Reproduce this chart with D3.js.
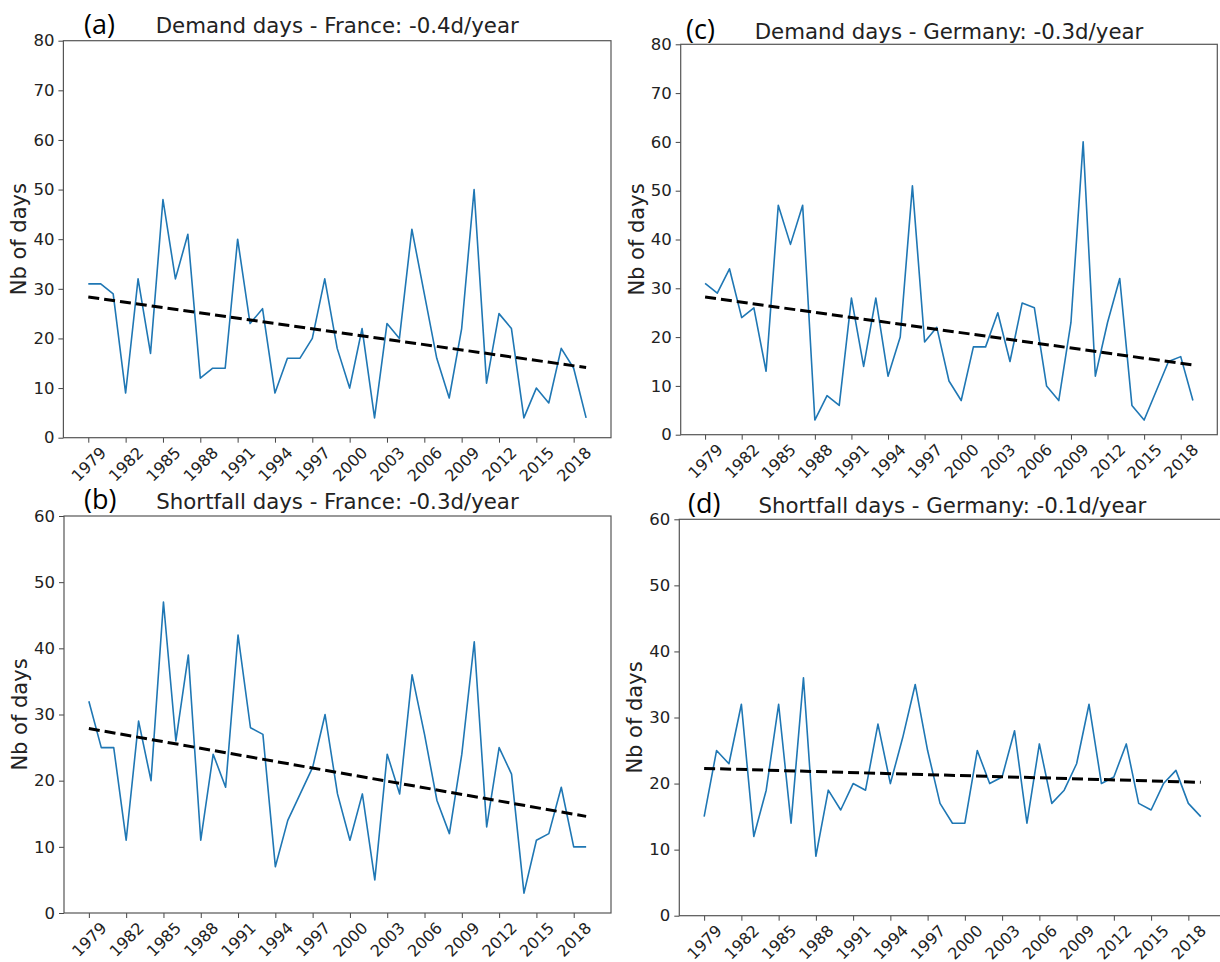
<!DOCTYPE html>
<html>
<head>
<meta charset="utf-8">
<script src="https://cdn.jsdelivr.net/npm/d3@7"></script>
<style>
  body { margin: 0; background: #fff; }
  svg { display: block; }
</style>
</head>
<body>
<script>
// years on the x axis
const years = [1979, 1980, 1981, 1982, 1983, 1984, 1985, 1986, 1987, 1988,
  1989, 1990, 1991, 1992, 1993, 1994, 1995, 1996, 1997, 1998,
  1999, 2000, 2001, 2002, 2003, 2004, 2005, 2006, 2007, 2008,
  2009, 2010, 2011, 2012, 2013, 2014, 2015, 2016, 2017, 2018, 2019];

const xTickYears = [1979, 1982, 1985, 1988, 1991, 1994, 1997, 2000, 2003, 2006, 2009, 2012, 2015, 2018];
const yTicksDemand = [0, 10, 20, 30, 40, 50, 60, 70, 80];
const yTicksShortfall = [0, 10, 20, 30, 40, 50, 60];

// number of days per year
const demandFrance = [31, 31, 29, 9, 32, 17, 48, 32, 41, 12,
  14, 14, 40, 23, 26, 9, 16, 16, 20, 32,
  18, 10, 22, 4, 23, 20, 42, 29, 16, 8,
  22, 50, 11, 25, 22, 4, 10, 7, 18, 14, 4];

const demandGermany = [31, 29, 34, 24, 26, 13, 47, 39, 47, 3,
  8, 6, 28, 14, 28, 12, 20, 51, 19, 22,
  11, 7, 18, 18, 25, 15, 27, 26, 10, 7,
  23, 60, 12, 23, 32, 6, 3, 9, 15, 16, 7];

const shortfallFrance = [32, 25, 25, 11, 29, 20, 47, 26, 39, 11,
  24, 19, 42, 28, 27, 7, 14, 18, 22, 30,
  18, 11, 18, 5, 24, 18, 36, 27, 17, 12,
  24, 41, 13, 25, 21, 3, 11, 12, 19, 10, 10];

const shortfallGermany = [15, 25, 23, 32, 12, 19, 32, 14, 36, 9,
  19, 16, 20, 19, 29, 20, 27, 35, 25, 17,
  14, 14, 25, 20, 21, 28, 14, 26, 17, 19,
  23, 32, 20, 21, 26, 17, 16, 20, 22, 17, 15];

const panelLabels = ["(a)", "(b)", "(c)", "(d)"];
const panelTitles = [
  "Demand days - France: -0.4d/year",
  "Shortfall days - France: -0.3d/year",
  "Demand days - Germany: -0.3d/year",
  "Shortfall days - Germany: -0.1d/year"
];

const width = 1220;
const height = 962;
const font = "'DejaVu Sans', sans-serif";

const svg = d3.select("body").append("svg")
    .attr("width", width)
    .attr("height", height)
    .attr("viewBox", [0, 0, width, height]);

const panels = [
  {values: demandFrance, yTicks: yTicksDemand, label: panelLabels[0], title: panelTitles[0],
   left: 63.4, right: 611, top: 40.7, bottom: 437.7, titleY: 33, labelX: 84, labelY: 33.5},
  {values: shortfallFrance, yTicks: yTicksShortfall, label: panelLabels[1], title: panelTitles[1],
   left: 64, right: 611, top: 516, bottom: 913, titleY: 509, labelX: 84, labelY: 509},
  {values: demandGermany, yTicks: yTicksDemand, label: panelLabels[2], title: panelTitles[2],
   left: 680.7, right: 1217.3, top: 44.3, bottom: 434.7, titleY: 38.5, labelX: 686, labelY: 39},
  {values: shortfallGermany, yTicks: yTicksShortfall, label: panelLabels[3], title: panelTitles[3],
   left: 679.3, right: 1225.6, top: 519.3, bottom: 915.7, titleY: 512.5, labelX: 688, labelY: 512.7}
];

// least squares fit for the trend
function fit(xs, ys) {
  const mx = d3.mean(xs), my = d3.mean(ys);
  const slope = d3.sum(xs, (x, i) => (x - mx) * (ys[i] - my)) / d3.sum(xs, x => (x - mx) ** 2);
  return {slope, intercept: my - slope * mx};
}

panels.forEach(p => {
  const x = d3.scaleLinear().domain([1977, 2021]).range([p.left, p.right]);
  const y = d3.scaleLinear().domain([0, d3.max(p.yTicks)]).range([p.bottom, p.top]);

  const g = svg.append("g")
      .attr("font-family", font)
      .attr("fill", "#222");

  // y axis
  const yAxis = g.append("g")
      .attr("transform", `translate(${p.left},0)`)
      .call(d3.axisLeft(y).tickValues(p.yTicks).tickSize(5).tickPadding(4));
  yAxis.selectAll("text")
      .attr("font-family", font)
      .attr("font-size", 16.5)
      .attr("fill", "#222");

  // x axis
  const xAxis = g.append("g")
      .attr("transform", `translate(0,${p.bottom})`)
      .call(d3.axisBottom(x).tickValues(xTickYears).tickFormat(d3.format("d")).tickSize(5));
  xAxis.selectAll("text")
      .attr("font-family", font)
      .attr("font-size", 16)
      .attr("fill", "#222")
      .attr("y", 0)
      .attr("dy", null)
      .attr("text-anchor", "middle")
      .attr("dominant-baseline", "central")
      .attr("transform", "translate(0,26.5) rotate(-45)");

  g.selectAll(".domain").remove();
  g.selectAll(".tick line").attr("stroke", "#444");

  // frame
  g.append("rect")
      .attr("x", p.left)
      .attr("y", p.top)
      .attr("width", p.right - p.left)
      .attr("height", p.bottom - p.top)
      .attr("fill", "none")
      .attr("stroke", "#555")
      .attr("stroke-width", 1.2);

  // series
  const line = d3.line()
      .x((d, i) => x(years[i]))
      .y(d => y(d));

  g.append("path")
      .datum(p.values)
      .attr("fill", "none")
      .attr("stroke", "#1f77b4")
      .attr("stroke-width", 1.6)
      .attr("stroke-linejoin", "round")
      .attr("d", line);

  // trend
  const t = fit(years, p.values);
  const ends = [years[0], years[years.length - 1]];
  g.append("path")
      .datum(ends)
      .attr("fill", "none")
      .attr("stroke", "#000")
      .attr("stroke-width", 3)
      .attr("stroke-dasharray", "11,5")
      .attr("d", d3.line().x(d => x(d)).y(d => y(t.intercept + t.slope * d)));

  // y label
  g.append("text")
      .attr("transform", `translate(${p.left - 44},${(p.top + p.bottom) / 2}) rotate(-90)`)
      .attr("text-anchor", "middle")
      .attr("dominant-baseline", "central")
      .attr("font-size", 21)
      .text("Nb of days");

  // title
  g.append("text")
      .attr("x", (p.left + p.right) / 2)
      .attr("y", p.titleY)
      .attr("text-anchor", "middle")
      .attr("font-size", 21.3)
      .text(p.title);

  // panel letter
  svg.append("text")
      .attr("x", p.labelX)
      .attr("y", p.labelY)
      .attr("font-family", "'Open Sans', sans-serif")
      .attr("font-size", 27)
      .attr("fill", "#000")
      .text(p.label);
});
</script>
</body>
</html>
